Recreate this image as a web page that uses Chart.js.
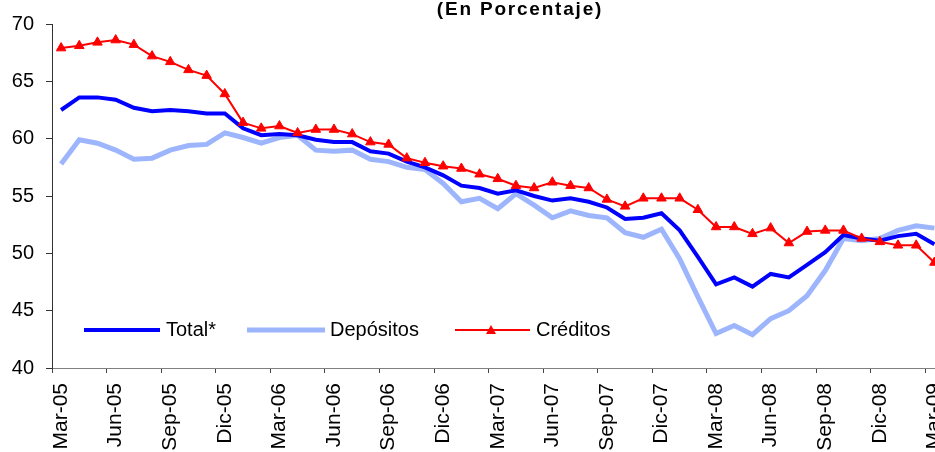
<!DOCTYPE html>
<html>
<head>
<meta charset="utf-8">
<script src="https://cdn.jsdelivr.net/npm/chart.js@4.4.0/dist/chart.umd.min.js"></script>
<style>
  html, body { margin: 0; padding: 0; background: #fff; overflow: hidden; }
  #wrap { width: 950px; height: 452px; }
</style>
</head>
<body>
<div id="wrap"><canvas id="chart" width="950" height="452"></canvas></div>
<script>
const meses = ['Ene', 'Feb', 'Mar', 'Abr', 'May', 'Jun', 'Jul', 'Ago', 'Sep', 'Oct', 'Nov', 'Dic'];
const anios = ['05', '06', '07', '08', '09'];

// Mar-05 .. Mar-09
const labels = [];
anios.forEach(a => {
  meses.forEach((m, i) => {
    if ((a === '05' && i < 2) || (a === '09' && i > 2)) return;
    labels.push(m + '-' + a);
  });
});

const total = [62.5, 63.6, 63.6, 63.4, 62.7, 62.4, 62.5, 62.4, 62.2, 62.2, 60.9, 60.3, 60.4, 60.3, 59.9,
  59.7, 59.7, 58.9, 58.7, 58.0, 57.5, 56.8, 55.9, 55.7, 55.2, 55.5, 55.0, 54.6, 54.8, 54.5, 54.0,
  53.0, 53.1, 53.5, 52.0, 49.7, 47.3, 47.9, 47.1, 48.2, 47.9, 49.0, 50.1, 51.6, 51.3, 51.1, 51.5, 51.7, 50.8];

const depositos = [57.8, 59.9, 59.6, 59.0, 58.2, 58.3, 59.0, 59.4, 59.5, 60.5, 60.1, 59.6, 60.1, 60.3, 59.0,
  58.9, 59.0, 58.2, 58.0, 57.5, 57.3, 56.1, 54.5, 54.8, 53.9, 55.2, 54.2, 53.1, 53.7, 53.3, 53.1,
  51.8, 51.4, 52.1, 49.5, 46.2, 43.0, 43.7, 42.9, 44.3, 45.0, 46.3, 48.5, 51.3, 51.1, 51.3, 52.0, 52.4, 52.2];

const creditos = [67.9, 68.1, 68.4, 68.6, 68.2, 67.2, 66.7, 66.0, 65.5, 63.9, 61.4, 60.9, 61.1, 60.5, 60.8,
  60.8, 60.4, 59.7, 59.5, 58.3, 57.9, 57.6, 57.4, 56.9, 56.5, 55.9, 55.7, 56.2, 55.9, 55.7, 54.7,
  54.1, 54.8, 54.8, 54.8, 53.8, 52.3, 52.3, 51.7, 52.2, 50.9, 51.9, 52.0, 52.0, 51.3, 51.0, 50.7, 50.7, 49.2];

const yTicks = [40, 45, 50, 55, 60, 65, 70];

const FONT = "'Liberation Sans', Arial, sans-serif";
const AZUL = '#0000ff';
const CELESTE = '#9db5fc';
const ROJO = '#ff0000';

// title (cut at the top like the original) and the legend inside the plot
const textos = {
  id: 'textos',
  afterDraw(chart) {
    const ctx = chart.ctx;
    const area = chart.chartArea;
    ctx.save();
    ctx.fillStyle = '#000';
    ctx.font = 'bold 19px ' + FONT;
    ctx.letterSpacing = '1.8px';
    ctx.textAlign = 'center';
    ctx.textBaseline = 'alphabetic';
    ctx.fillText('(En Porcentaje)', area.left + 468, 15);
    ctx.letterSpacing = '0px';

    const y = area.bottom - 38;
    ctx.lineCap = 'butt';

    ctx.strokeStyle = AZUL;
    ctx.lineWidth = 4;
    ctx.beginPath();
    ctx.moveTo(area.left + 32, y);
    ctx.lineTo(area.left + 108, y);
    ctx.stroke();

    ctx.strokeStyle = CELESTE;
    ctx.lineWidth = 5;
    ctx.beginPath();
    ctx.moveTo(area.left + 195, y);
    ctx.lineTo(area.left + 273, y);
    ctx.stroke();

    ctx.strokeStyle = ROJO;
    ctx.lineWidth = 2;
    ctx.beginPath();
    ctx.moveTo(area.left + 403, y);
    ctx.lineTo(area.left + 478, y);
    ctx.stroke();
    ctx.fillStyle = ROJO;
    ctx.beginPath();
    ctx.moveTo(area.left + 439, y - 5);
    ctx.lineTo(area.left + 444, y + 4);
    ctx.lineTo(area.left + 434, y + 4);
    ctx.closePath();
    ctx.fill();

    ctx.fillStyle = '#000';
    ctx.font = '20px ' + FONT;
    ctx.textAlign = 'left';
    ctx.textBaseline = 'middle';
    ctx.fillText('Total*', area.left + 114, y);
    ctx.fillText('Depósitos', area.left + 278, y);
    ctx.fillText('Créditos', area.left + 484, y);
    ctx.restore();
  }
};

const ctx = document.getElementById('chart').getContext('2d');
new Chart(ctx, {
  type: 'line',
  data: {
    labels: labels,
    datasets: [
      {
        label: 'Total*',
        data: total,
        borderColor: AZUL,
        borderWidth: 4,
        pointRadius: 0,
        order: 1
      },
      {
        label: 'Depósitos',
        data: depositos,
        borderColor: CELESTE,
        borderWidth: 5,
        pointRadius: 0,
        order: 2
      },
      {
        label: 'Créditos',
        data: creditos,
        borderColor: ROJO,
        borderWidth: 2,
        pointStyle: 'triangle',
        pointRadius: 5.5,
        pointBackgroundColor: ROJO,
        pointBorderColor: ROJO,
        pointBorderWidth: 1,
        order: 0
      }
    ]
  },
  options: {
    responsive: false,
    animation: false,
    devicePixelRatio: 1,
    layout: { padding: { top: 24, right: 6, left: 0, bottom: 0 } },
    plugins: {
      legend: { display: false },
      title: { display: false },
      tooltip: { enabled: false }
    },
    elements: { line: { tension: 0, borderJoinStyle: 'miter' } },
    scales: {
      x: {
        offset: true,
        grid: {
          offset: true,
          drawOnChartArea: false,
          tickLength: 5,
          tickColor: c => (c.index % 3 === 0 ? '#444' : 'rgba(0,0,0,0)')
        },
        border: { color: '#808080', width: 1 },
        ticks: {
          autoSkip: false,
          minRotation: 90,
          maxRotation: 90,
          padding: 10,
          color: '#000',
          font: { family: FONT, size: 21 },
          callback: function(val, i) {
            return i % 3 === 0 ? labels[i] : '';
          }
        },
        afterFit: function(scale) {
          scale.height = 84;
          scale.paddingLeft = 0;
          scale.paddingRight = 0;
        }
      },
      y: {
        min: 40,
        max: 70,
        afterBuildTicks: function(scale) {
          scale.ticks = yTicks.map(v => ({ value: v }));
        },
        grid: { drawOnChartArea: false, tickLength: 6, tickColor: '#333' },
        border: { color: '#333', width: 1 },
        ticks: {
          padding: 12,
          color: '#000',
          font: { family: FONT, size: 20 }
        },
        afterFit: function(scale) {
          scale.width = 52;
        }
      }
    }
  },
  plugins: [textos]
});
</script>
</body>
</html>
